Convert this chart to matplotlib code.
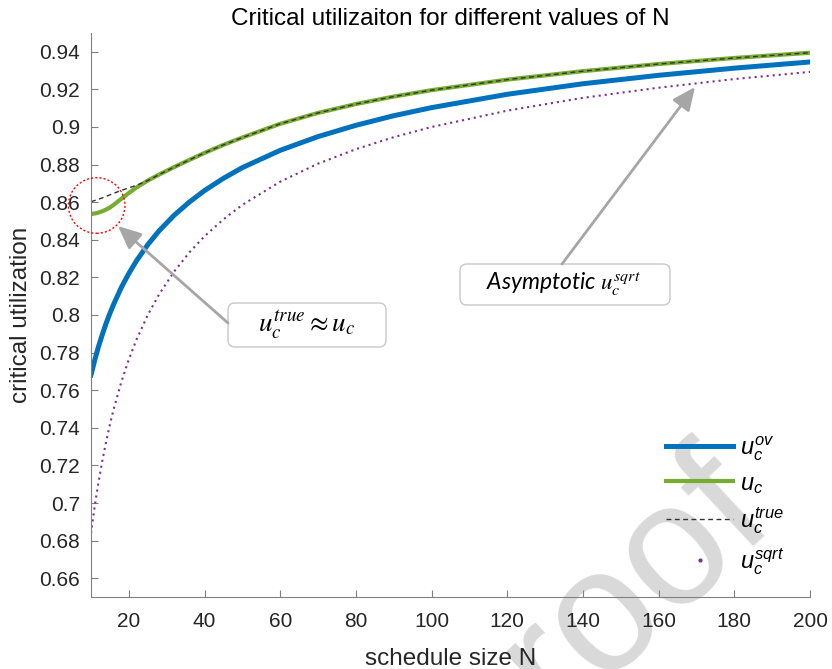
import matplotlib
matplotlib.use("Agg")
import matplotlib.pyplot as plt
from matplotlib.patches import Ellipse, FancyBboxPatch, FancyArrowPatch
from matplotlib.lines import Line2D

plt.rcParams["font.family"] = "Liberation Sans"
plt.rcParams["mathtext.fontset"] = "custom"
plt.rcParams["mathtext.it"] = "Liberation Sans:italic"
plt.rcParams["mathtext.rm"] = "Liberation Sans"

# valeurs
N = [10, 11, 12, 13, 14, 15, 16, 18, 20, 22, 25, 28, 32, 36, 40, 45, 50,
     60, 70, 80, 90, 100, 120, 140, 160, 180, 200]
u_ov = [0.7681, 0.7761, 0.7833, 0.7897, 0.7956, 0.8009, 0.8058, 0.8146,
        0.8221, 0.8288, 0.8374, 0.8448, 0.8531, 0.8601, 0.8662, 0.8727,
        0.8784, 0.8876, 0.8949, 0.9009, 0.9060, 0.9103, 0.9174, 0.9230,
        0.9275, 0.9313, 0.9346]
u_c = [0.8537, 0.8540, 0.8545, 0.8552, 0.8561, 0.8572, 0.8586, 0.8618,
       0.8649, 0.8678, 0.8715, 0.8747, 0.8787, 0.8825, 0.8862, 0.8905,
       0.8944, 0.9017, 0.9075, 0.9122, 0.9162, 0.9196, 0.9252, 0.9297,
       0.9335, 0.9367, 0.9395]
u_true = [0.8603, 0.8609, 0.8616, 0.8623, 0.8631, 0.8639, 0.8647, 0.8663,
          0.8676, 0.8690, 0.8715, 0.8747, 0.8787, 0.8825, 0.8862, 0.8905,
          0.8944, 0.9017, 0.9075, 0.9122, 0.9162, 0.9196, 0.9252, 0.9297,
          0.9335, 0.9367, 0.9395]
u_sqrt = [0.6838, 0.6985, 0.7113, 0.7226, 0.7327, 0.7418, 0.7500, 0.7643,
          0.7764, 0.7868, 0.8000, 0.8110, 0.8232, 0.8333, 0.8419, 0.8509,
          0.8586, 0.8709, 0.8805, 0.8882, 0.8946, 0.9000, 0.9087, 0.9155,
          0.9209, 0.9255, 0.9293]

xticks = [20, 40, 60, 80, 100, 120, 140, 160, 180, 200]
yticks = [0.66, 0.68, 0.70, 0.72, 0.74, 0.76, 0.78, 0.80, 0.82, 0.84,
          0.86, 0.88, 0.90, 0.92, 0.94]
ytick_labels = ["0.66", "0.68", "0.7", "0.72", "0.74", "0.76", "0.78", "0.8",
                "0.82", "0.84", "0.86", "0.88", "0.9", "0.92", "0.94"]
labels = ["$u_c^{ov}$", "$u_c$", "$u_c^{true}$", "$u_c^{sqrt}$"]

c_blue = "#0072BD"
c_green = "#77AC30"
c_dash = "#333333"
c_purple = "#7E2F8E"
c_gray = "#a6a6a6"

W, H = 832, 669
fig = plt.figure(figsize=(W / 100, H / 100), dpi=100)
ax = fig.add_axes([91 / W, (H - 597) / H, (810 - 91) / W, (597 - 33) / H])
ax.patch.set_visible(False)

# filigrane
fig.text(7.78 / 8.32, 1.45 / 6.69, "Journal Pre-proof", rotation=43,
         ha="right", va="baseline", rotation_mode="anchor", fontsize=125,
         color="#d9d9d9", zorder=-5)

ax.plot(N, u_ov, color=c_blue, lw=3.6)
ax.plot(N, u_c, color=c_green, lw=3.0)
ax.plot(N, u_true, color=c_dash, lw=1.0, ls=(0, (3.5, 2.5)))
ax.plot(N, u_sqrt, color=c_purple, lw=1.5, ls=(0, (1, 1.9)))

ax.set_xlim(10, 200)
ax.set_ylim(0.65, 0.95)
ax.set_xticks(xticks)
ax.set_yticks(yticks)
ax.set_yticklabels(ytick_labels)
for s in ["top", "right"]:
    ax.spines[s].set_visible(False)
for s in ["left", "bottom"]:
    ax.spines[s].set_color("#808080")
ax.tick_params(direction="in", length=5, color="#808080",
               labelcolor="#262626", labelsize=15, pad=8)
ax.tick_params(axis="x", pad=11)
ax.set_title("Critical utilizaiton for different values of N",
             fontsize=17.5, pad=6)
ax.set_xlabel("schedule size N", fontsize=17.5, color="#262626", labelpad=12)
ax.set_ylabel("critical utilization", fontsize=17.5, color="#262626", labelpad=5)

# légende
handles = [Line2D([], [], color=c_blue, lw=3.6),
           Line2D([], [], color=c_green, lw=3.0),
           Line2D([], [], color=c_dash, lw=1.0, ls=(0, (3.5, 2.5))),
           Line2D([], [], ls="none", marker=".", ms=4, color=c_purple)]
fig.legend(handles, labels, loc="upper left", bbox_to_anchor=(666 / W, 1 - 434 / H),
           frameon=False, fontsize=17, handlelength=2.85, handletextpad=0.3,
           labelspacing=0.42, borderpad=0, borderaxespad=0)

# annotations (coordonnées en pouces)
tr = fig.dpi_scale_trans


def px(x, y):
    return (x / 100, (H - y) / 100)


fig.add_artist(Ellipse(px(96.7, 205.5), 0.566, 0.556, transform=tr,
                       fill=False, ec="red", lw=1.0, ls=(0, (1.5, 1.5))))

for (x0, y0, x1, y1) in [(228, 303, 386, 347), (460, 264, 670, 305)]:
    a, b = px(x0, y1)
    fig.add_artist(FancyBboxPatch((a, b), (x1 - x0) / 100, (y1 - y0) / 100,
                                  boxstyle="round,pad=0,rounding_size=0.07",
                                  transform=tr, fc="white", ec="#c8c8c8", lw=1.0))

fig.text(*px(307, 325), r"$u_c^{true} \approx u_c$", transform=tr,
         ha="center", va="center", fontsize=19.5, math_fontfamily="stix")
fig.text(*px(563, 284.5), r"Asymptotic $u_c^{sqrt}$", transform=tr,
         ha="center", va="center", fontsize=16.5, style="italic",
         family="Lato", math_fontfamily="stix")

for (xa, ya, xb, yb) in [(228, 323, 118, 226), (562, 264, 695, 87)]:
    fig.add_artist(FancyArrowPatch(px(xa, ya), px(xb, yb), transform=tr,
                                   arrowstyle="-|>,head_length=1.0,head_width=0.45",
                                   mutation_scale=14, color=c_gray, lw=2,
                                   shrinkA=0, shrinkB=0))

fig.savefig("out.png", dpi=100)
